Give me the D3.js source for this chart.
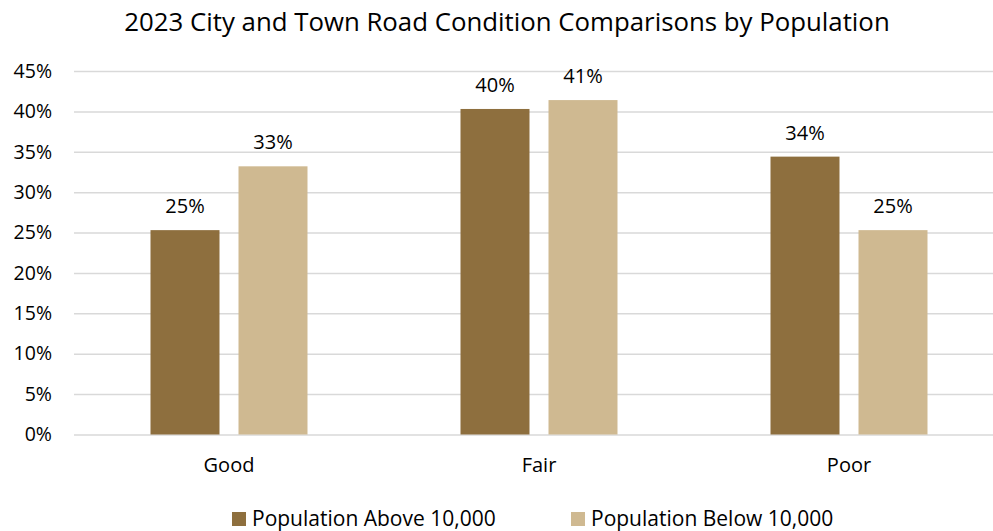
<!DOCTYPE html>
<html>
<head>
<meta charset="utf-8">
<script src="https://cdn.jsdelivr.net/npm/d3@7"></script>
<style>
  html, body { margin: 0; padding: 0; background: #fff; }
  svg { display: block; font-family: "Open Sans", "Noto Sans", sans-serif; }
</style>
</head>
<body>
<svg id="chart" width="993" height="531"></svg>
<script>
// Road condition shares by population group
const categories = ["Good", "Fair", "Poor"];
const seriesNames = ["Population Above 10,000", "Population Below 10,000"];
const above10k = [0.253, 0.403, 0.344];
const below10k = [0.332, 0.414, 0.253];
const yTicks = [0, 0.05, 0.10, 0.15, 0.20, 0.25, 0.30, 0.35, 0.40, 0.45];
const titleText = "2023 City and Town Road Condition Comparisons by Population";

const colors = ["#8E6F3E", "#CFB991"];
const seriesValues = [above10k, below10k];

const svg = d3.select("#chart");
const plot = { left: 74, right: 1004, top: 71, bottom: 434.5 };

const pct = d3.format(".0%");

const x0 = d3.scaleBand()
  .domain(categories)
  .range([plot.left, plot.right])
  .paddingInner(153 / 310)
  .paddingOuter(153 / 620);

const x1 = d3.scaleBand()
  .domain(d3.range(seriesNames.length))
  .range([0, x0.bandwidth()])
  .paddingInner(0.216);

const y = d3.scaleLinear()
  .domain([0, 0.45])
  .range([plot.bottom, plot.top]);

// Title
svg.append("text")
  .attr("x", 507)
  .attr("y", 31)
  .attr("text-anchor", "middle")
  .attr("font-size", 25.8)
  .attr("fill", "#000")
  .text(titleText);

// Horizontal gridlines and percentage ticks
const yAxis = d3.axisLeft(y)
  .tickValues(yTicks)
  .tickFormat(pct)
  .tickSize(-(plot.right - plot.left))
  .tickPadding(22);

const gy = svg.append("g")
  .attr("transform", `translate(${plot.left},0)`)
  .call(yAxis);
gy.select(".domain").remove();
gy.selectAll(".tick line")
  .attr("stroke", "#D9D9D9")
  .attr("stroke-width", 1.5);
gy.selectAll(".tick text")
  .attr("font-family", "'Open Sans', sans-serif")
  .attr("font-size", 19.5)
  .attr("fill", "#000");

// Bars
const groups = svg.append("g")
  .selectAll("g")
  .data(categories)
  .join("g")
  .attr("transform", d => `translate(${x0(d)},0)`);

const cells = groups.selectAll("g.cell")
  .data((d, i) => seriesValues.map((vals, s) => ({ s, v: vals[i] })))
  .join("g")
  .attr("class", "cell");

cells.append("rect")
  .attr("x", d => x1(d.s))
  .attr("width", x1.bandwidth())
  .attr("y", d => y(d.v))
  .attr("height", d => y(0) - y(d.v))
  .attr("fill", d => colors[d.s]);

cells.append("text")
  .attr("x", d => x1(d.s) + x1.bandwidth() / 2)
  .attr("y", d => y(d.v) - 17)
  .attr("text-anchor", "middle")
  .attr("font-size", 20)
  .attr("fill", "#000")
  .text(d => pct(d.v));

// Category axis labels
const xAxis = d3.axisBottom(x0).tickSize(0).tickPadding(23);
const gx = svg.append("g")
  .attr("transform", `translate(0,${plot.bottom})`)
  .call(xAxis);
gx.select(".domain").remove();
gx.selectAll(".tick text")
  .attr("font-family", "'Open Sans', sans-serif")
  .attr("font-size", 20)
  .attr("fill", "#000");

// Legend
const legendX = [232, 571];
const legend = svg.append("g")
  .selectAll("g")
  .data(seriesNames)
  .join("g")
  .attr("transform", (d, i) => `translate(${legendX[i]},512)`);

legend.append("rect")
  .attr("width", 14)
  .attr("height", 14)
  .attr("fill", (d, i) => colors[i]);

legend.append("text")
  .attr("x", 20)
  .attr("y", 14)
  .attr("font-size", 21)
  .attr("fill", "#000")
  .text(d => d);
</script>
</body>
</html>
